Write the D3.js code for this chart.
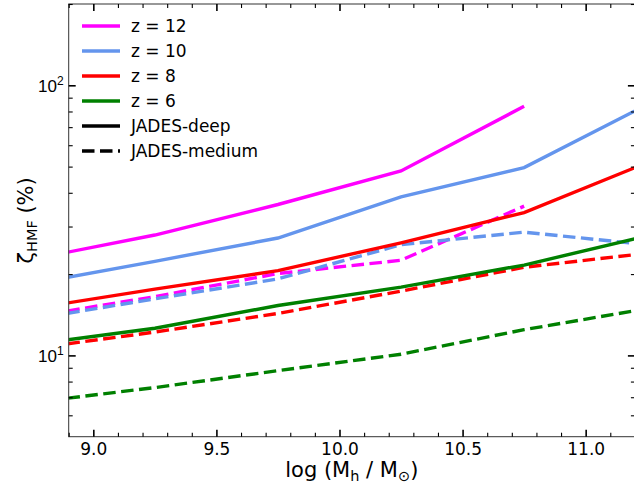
<!DOCTYPE html>
<html>
<head>
<meta charset="utf-8">
<script src="https://cdn.jsdelivr.net/npm/d3@7"></script>
<style>
  html, body { margin: 0; padding: 0; background: #fff; }
  svg { display: block; font-family: "DejaVu Sans", sans-serif; }
</style>
</head>
<body>
<svg id="chart" width="634" height="487"></svg>
<script>
// Halo mass bins (log M_h / M_sun)
const massBins = [8.75, 9.25, 9.75, 10.25, 10.75, 11.25];

// zeta_HMF (%) for JADES-deep, per redshift
const deepZ12 = [22.7, 27.9, 36.2, 48.2, 83.6];
const deepZ10 = [18.4, 22.3, 27.2, 38.6, 49.6, 84.8];
const deepZ8  = [14.9, 17.6, 20.6, 26.1, 33.8, 51.7];
const deepZ6  = [10.96, 12.6, 15.3, 17.9, 21.6, 27.7];

// zeta_HMF (%) for JADES-medium, per redshift
const medZ12 = [13.9, 16.5, 20.1, 22.5, 35.7];
const medZ10 = [13.6, 16.2, 19.2, 25.7, 28.6, 25.7];
const medZ8  = [10.6, 12.2, 14.3, 17.3, 21.2, 23.9];
const medZ6  = [6.69, 7.6, 8.78, 10.1, 12.45, 14.9];

const redshiftLabels = ["z = 12", "z = 10", "z = 8", "z = 6"];
const redshiftColors = ["#ff00ff", "#6495ed", "#ff0000", "#008000"];
const surveyLabels = ["JADES-deep", "JADES-medium"];

const xTicks = [9.0, 9.5, 10.0, 10.5, 11.0];
const yTicks = [10, 100];

const svg = d3.select("#chart");
const plotL = 68.7, plotR = 634.9, plotT = 4, plotB = 436.7;

const x = d3.scaleLinear().domain([8.9, 11.2]).range([plotL, plotR]);
const y = d3.scaleLog().domain([5, 200]).range([plotB, plotT]);

svg.append("defs").append("clipPath").attr("id", "plotClip")
  .append("rect").attr("x", plotL).attr("y", plotT)
  .attr("width", plotR - plotL).attr("height", plotB - plotT);

const dash = "12.5,5.5";
const lineW = 3.4;
const series = [
  { vals: deepZ12, color: redshiftColors[0], dashed: false },
  { vals: deepZ10, color: redshiftColors[1], dashed: false },
  { vals: deepZ8,  color: redshiftColors[2], dashed: false },
  { vals: deepZ6,  color: redshiftColors[3], dashed: false },
  { vals: medZ12,  color: redshiftColors[0], dashed: true },
  { vals: medZ10,  color: redshiftColors[1], dashed: true },
  { vals: medZ8,   color: redshiftColors[2], dashed: true },
  { vals: medZ6,   color: redshiftColors[3], dashed: true },
];

const line = d3.line().x(d => x(d[0])).y(d => y(d[1]));
const lines = svg.append("g").attr("clip-path", "url(#plotClip)");
// dashed curves first so the solid ones sit on top
[...series.filter(s => s.dashed), ...series.filter(s => !s.dashed)].forEach(s => {
  lines.append("path")
    .datum(s.vals.map((v, i) => [massBins[i], v]))
    .attr("d", line)
    .attr("fill", "none")
    .attr("stroke", s.color)
    .attr("stroke-width", lineW)
    .attr("stroke-dasharray", s.dashed ? dash : null);
});

// frame
svg.append("rect").attr("x", plotL).attr("y", plotT)
  .attr("width", plotR - plotL).attr("height", plotB - plotT)
  .attr("fill", "none").attr("stroke", "#333").attr("stroke-width", 1);

// inward ticks on all four sides
const xMinor = d3.range(89, 113).map(v => v / 10).filter(v => !xTicks.some(t => Math.abs(t - v) < 1e-9));
const yMinor = [6, 7, 8, 9, 20, 30, 40, 50, 60, 70, 80, 90, 200];

function styleTicks(g, major) {
  g.select(".domain").remove();
  g.selectAll(".tick line").attr("stroke", "#000").attr("stroke-width", major ? 1.6 : 1.1);
}

const axBottomMajor = svg.append("g").attr("transform", `translate(0,${plotB})`)
  .call(d3.axisBottom(x).tickValues(xTicks).tickSize(-7).tickPadding(6).tickFormat(d3.format(".1f")));
styleTicks(axBottomMajor, true);
axBottomMajor.selectAll("text").attr("font-size", 17).attr("fill", "#000")
  .attr("font-family", "DejaVu Sans, sans-serif");

const axBottomMinor = svg.append("g").attr("transform", `translate(0,${plotB})`)
  .call(d3.axisBottom(x).tickValues(xMinor).tickSize(-4).tickFormat(""));
styleTicks(axBottomMinor, false);

const axTopMajor = svg.append("g").attr("transform", `translate(0,${plotT})`)
  .call(d3.axisTop(x).tickValues(xTicks).tickSize(-7).tickFormat(""));
styleTicks(axTopMajor, true);
const axTopMinor = svg.append("g").attr("transform", `translate(0,${plotT})`)
  .call(d3.axisTop(x).tickValues(xMinor).tickSize(-4).tickFormat(""));
styleTicks(axTopMinor, false);

const axLeftMajor = svg.append("g").attr("transform", `translate(${plotL},0)`)
  .call(d3.axisLeft(y).tickValues(yTicks).tickSize(-7).tickFormat(""));
styleTicks(axLeftMajor, true);
axLeftMajor.selectAll(".tick").append("text")
  .attr("x", -5).attr("dy", "0.36em").attr("text-anchor", "end")
  .attr("font-size", 17).attr("fill", "#000")
  .each(function(d) {
    const t = d3.select(this);
    t.append("tspan").text("10");
    t.append("tspan").attr("font-size", 12).attr("dy", "-0.6em").text(String(Math.round(Math.log10(d))));
  });
const axLeftMinor = svg.append("g").attr("transform", `translate(${plotL},0)`)
  .call(d3.axisLeft(y).tickValues(yMinor).tickSize(-4).tickFormat(""));
styleTicks(axLeftMinor, false);

const axRightMajor = svg.append("g").attr("transform", `translate(${plotR},0)`)
  .call(d3.axisRight(y).tickValues(yTicks).tickSize(-7).tickFormat(""));
styleTicks(axRightMajor, true);
const axRightMinor = svg.append("g").attr("transform", `translate(${plotR},0)`)
  .call(d3.axisRight(y).tickValues(yMinor).tickSize(-4).tickFormat(""));
styleTicks(axRightMinor, false);

// axis titles
const xl = svg.append("text").attr("x", (plotL + plotR) / 2).attr("y", 477)
  .attr("text-anchor", "middle").attr("font-size", 21).attr("fill", "#000");
xl.append("tspan").text("log (M");
xl.append("tspan").attr("font-size", 14.5).attr("dy", 4).text("h");
xl.append("tspan").attr("dy", -4).text(" / M");
xl.append("tspan").attr("font-size", 14.5).attr("dy", 4).text("\u2299");
xl.append("tspan").attr("dy", -4).text(")");

const yl = svg.append("text")
  .attr("transform", `translate(33,${(plotT + plotB) / 2}) rotate(-90)`)
  .attr("text-anchor", "middle").attr("font-size", 21).attr("fill", "#000");
yl.append("tspan").text("\u03B6");
yl.append("tspan").attr("font-size", 14.5).attr("dy", 4).text("HMF");
yl.append("tspan").attr("dy", -4).text(" (%)");

// legend
const legend = svg.append("g");
const legendRows = [
  ...redshiftLabels.map((l, i) => ({ label: l, color: redshiftColors[i], dashed: false })),
  { label: surveyLabels[0], color: "#000", dashed: false },
  { label: surveyLabels[1], color: "#000", dashed: true },
];
legendRows.forEach((r, i) => {
  const yy = 26 + i * 25;
  legend.append("line").attr("x1", 82).attr("x2", 120).attr("y1", yy).attr("y2", yy)
    .attr("stroke", r.color).attr("stroke-width", lineW)
    .attr("stroke-dasharray", r.dashed ? dash : null);
  legend.append("text").attr("x", 131).attr("y", yy).attr("dy", "0.36em")
    .attr("font-size", 17).attr("fill", "#000").text(r.label);
});
</script>
</body>
</html>
